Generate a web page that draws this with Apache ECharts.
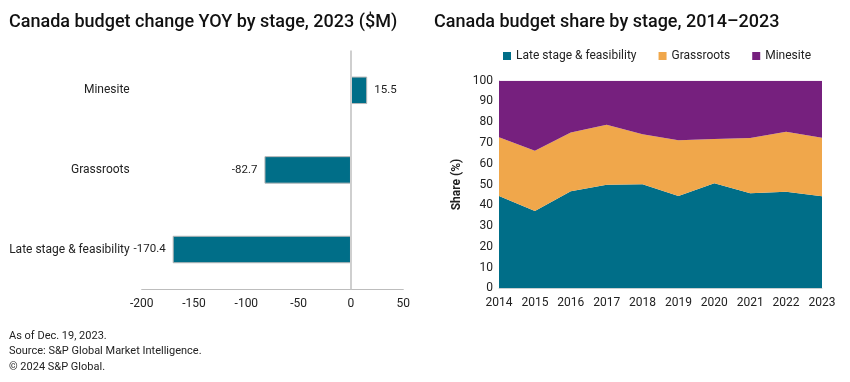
<!DOCTYPE html>
<html><head><meta charset="utf-8">
<script src="https://cdn.jsdelivr.net/npm/echarts@6/dist/echarts.min.js"></script>
<style>html,body{margin:0;padding:0;background:#fff}#c{width:850px;height:382px}</style>
</head><body><div id="c"></div>
<script>
var stageCategories = ['Late stage & feasibility', 'Grassroots', 'Minesite'];
var changeValues = [-170.4, -82.7, 15.5];
var changeTicks = [-200, -150, -100, -50, 0, 50];

var years = ['2014','2015','2016','2017','2018','2019','2020','2021','2022','2023'];
var lateShare = [44.5, 37.2, 46.7, 49.9, 50.1, 44.5, 50.6, 45.8, 46.5, 44.3];
var grassShare = [28.2, 29.1, 28.4, 28.9, 24.1, 26.8, 21.3, 26.6, 28.9, 28.2];
var mineShare = [27.3, 33.7, 24.9, 21.2, 25.8, 28.7, 28.1, 27.6, 24.6, 27.5];

var FONT = 'Roboto';
var TEAL = '#006E88', ORANGE = '#F0A74B', PURPLE = '#76207E';
var chart = echarts.init(document.getElementById('c'), null, {renderer: 'canvas'});
chart.setOption({
  animation: false,
  textStyle: {fontFamily: FONT, color: '#222'},
  title: [
    {text: 'Canada budget change YOY by stage, 2023 ($M)', left: 4, top: 8,
     textStyle: {fontFamily: FONT, fontSize: 18, fontWeight: 500, color: '#111'}},
    {text: 'Canada budget share by stage, 2014\u20132023', left: 429, top: 8,
     textStyle: {fontFamily: FONT, fontSize: 18, fontWeight: 500, color: '#111'}},
    {text: 'As of Dec. 19, 2023.\nSource: S&P Global Market Intelligence.\n\u00a9 2024 S&P Global.', left: 4, top: 323,
     textStyle: {fontFamily: FONT, fontSize: 11, fontWeight: 400, color: '#222', lineHeight: 15.5}}
  ],
  legend: {
    data: ['Late stage & feasibility', 'Grassroots', 'Minesite'],
    left: 498, top: 45, itemWidth: 8, itemHeight: 8, itemGap: 22, icon: 'rect',
    textStyle: {fontFamily: FONT, fontSize: 12, color: '#222'}
  },
  grid: [
    {left: 141.7, top: 50.5, width: 261.6, height: 238.8},
    {left: 499, top: 80.7, width: 323, height: 207.6}
  ],
  xAxis: [
    {gridIndex: 0, type: 'value', min: changeTicks[0], max: changeTicks[changeTicks.length-1], interval: 50,
     axisLine: {show: true, onZero: false, lineStyle: {color: '#BDBDBD'}}, axisTick: {show: false},
     splitLine: {show: false},
     axisLabel: {color: '#222', fontSize: 12, margin: 9, fontFamily: FONT}},
    {gridIndex: 1, type: 'category', data: years, boundaryGap: false,
     axisLine: {show: true, lineStyle: {color: '#D6D6D6'}}, axisTick: {show: false},
     axisLabel: {color: '#222', fontSize: 12, margin: 9, fontFamily: FONT, interval: 0}}
  ],
  yAxis: [
    {gridIndex: 0, type: 'category', data: stageCategories,
     axisLine: {show: false, onZero: false}, axisTick: {show: false},
     axisLabel: {color: '#222', fontSize: 12, margin: 12, fontFamily: FONT}},
    {gridIndex: 1, type: 'value', min: 0, max: 100, interval: 10,
     name: 'Share (%)', nameLocation: 'middle', nameGap: 36, nameRotate: 90,
     nameTextStyle: {fontFamily: FONT, fontSize: 12, fontWeight: 'bold', color: '#222'},
     axisLine: {show: true, lineStyle: {color: '#D6D6D6'}}, axisTick: {show: false},
     splitLine: {show: false},
     axisLabel: {color: '#222', fontSize: 12, margin: 6, fontFamily: FONT}}
  ],
  series: [
    {type: 'bar', xAxisIndex: 0, yAxisIndex: 0, barWidth: 27.5,
     data: changeValues.map(function (v) {
       return {value: v, label: {position: v < 0 ? 'left' : 'right'}};
     }),
     itemStyle: {color: TEAL, borderColor: '#B8B8B8', borderWidth: 1},
     label: {show: true, distance: 7, fontSize: 11.5, color: '#222', fontFamily: FONT},
     markLine: {silent: true, symbol: 'none', label: {show: false},
       lineStyle: {color: '#CFCFCF', type: 'solid', width: 2},
       data: [{xAxis: 0}]}},
    {name: 'Late stage & feasibility', type: 'line', xAxisIndex: 1, yAxisIndex: 1, stack: 'share',
     data: lateShare, symbol: 'none', lineStyle: {width: 0}, areaStyle: {color: TEAL, opacity: 1},
     itemStyle: {color: TEAL}},
    {name: 'Grassroots', type: 'line', xAxisIndex: 1, yAxisIndex: 1, stack: 'share',
     data: grassShare, symbol: 'none', lineStyle: {width: 0}, areaStyle: {color: ORANGE, opacity: 1},
     itemStyle: {color: ORANGE}},
    {name: 'Minesite', type: 'line', xAxisIndex: 1, yAxisIndex: 1, stack: 'share',
     data: mineShare, symbol: 'none', lineStyle: {width: 0}, areaStyle: {color: PURPLE, opacity: 1},
     itemStyle: {color: PURPLE}}
  ]
});
</script></body></html>
